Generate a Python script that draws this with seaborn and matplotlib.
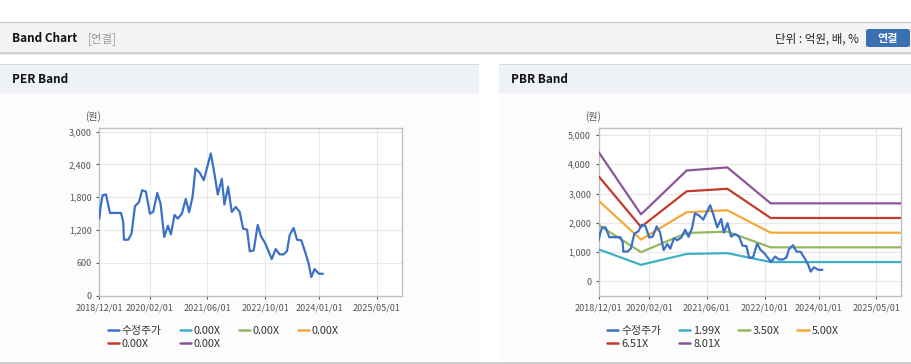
import matplotlib
matplotlib.use("Agg")
import matplotlib.dates as mdates
import matplotlib.pyplot as plt
import pandas as pd
import seaborn as sns
from matplotlib.lines import Line2D
from matplotlib.patches import FancyBboxPatch, Rectangle

# Data
PRICE_DATES = [
    "2018-12-01", "2018-12-12", "2018-12-29", "2019-01-26", "2019-02-06",
    "2019-03-01", "2019-06-02", "2019-06-21", "2019-06-27", "2019-08-02",
    "2019-08-30", "2019-09-28", "2019-10-31", "2019-11-28", "2019-12-29",
    "2020-02-01", "2020-02-29", "2020-04-03", "2020-05-01", "2020-06-01",
    "2020-07-02", "2020-07-27", "2020-08-27", "2020-09-24", "2020-10-28",
    "2020-11-30", "2020-12-28", "2021-01-26", "2021-02-20", "2021-03-28",
    "2021-05-01", "2021-06-29", "2021-07-27", "2021-08-27", "2021-09-30",
    "2021-10-22", "2021-11-22", "2021-12-23", "2022-01-26", "2022-02-28",
    "2022-03-29", "2022-05-01", "2022-05-24", "2022-06-26", "2022-07-30",
    "2022-08-27", "2022-09-30", "2022-11-25", "2022-12-29", "2023-01-31",
    "2023-03-06", "2023-04-03", "2023-04-26", "2023-05-29", "2023-06-27",
    "2023-08-02", "2023-09-08", "2023-10-03", "2023-10-25", "2023-11-22",
    "2023-12-29", "2024-02-01",
]
PRICE = [
    1408, 1622, 1837, 1850, 1745, 1512, 1512, 1347, 1022, 1022,
    1132, 1635, 1708, 1928, 1904, 1500, 1530, 1880, 1683, 1071,
    1279, 1120, 1475, 1408, 1500, 1769, 1524, 1806, 2326, 2247,
    2112, 2602, 2265, 1849, 2137, 1665, 1990, 1530, 1622, 1530,
    1224, 1206, 808, 826, 1292, 1084, 961, 667, 851, 753,
    753, 814, 1108, 1237, 1022, 1010, 765, 582, 337, 484,
    398, 398,
]

BAND_DATES = ["2018-12-01", "2019-11-23", "2020-12-13", "2021-05-25",
              "2021-11-21", "2022-11-21", "2025-12-31"]
BAND_199 = [1096, 569, 941, 953, 967, 663, 663]
BAND_350 = [1929, 1001, 1656, 1677, 1701, 1166, 1166]
BAND_500 = [2755, 1430, 2365, 2395, 2430, 1665, 1665]
BAND_651 = [3587, 1862, 3079, 3118, 3164, 2168, 2168]
BAND_801 = [4414, 2291, 3789, 3837, 3893, 2667, 2667]

PBR_LABELS = ["1.99X", "3.50X", "5.00X", "6.51X", "8.01X"]
PER_LABELS = ["0.00X", "0.00X", "0.00X", "0.00X", "0.00X"]
PRICE_LABEL = "수정주가"

X_TICKS = ["2018-12-01", "2020-02-01", "2021-06-01", "2022-10-01",
           "2024-01-01", "2025-05-01"]
X_LIM = ["2018-12-01", "2025-11-27"]
PER_YTICKS = [0, 600, 1200, 1800, 2400, 3000]
PBR_YTICKS = [0, 1000, 2000, 3000, 4000, 5000]

PRICE_COLOR = "#3d71c6"
BAND_COLORS = ["#3fb0c4", "#93b85e", "#f2a93b", "#c23b2c", "#8c559a"]

W, H = 912, 364

sns.set_theme(style="white")
plt.rcParams["font.family"] = ["Noto Sans CJK KR", "DejaVu Sans"]
plt.rcParams["axes.unicode_minus"] = False

fig = plt.figure(figsize=(W / 100, H / 100), dpi=100)


def fx(x):
  return x / W


def fy(y):
  return 1 - y / H


def rect(x0, y0, x1, y1, color):
  fig.patches.append(Rectangle((fx(x0), fy(y1)), fx(x1 - x0), (y1 - y0) / H,
                               transform=fig.transFigure, color=color,
                               zorder=-10, lw=0))


# Page chrome
rect(0, 22, W, 23, "#c4c4c4")
rect(0, 23, W, 52, "#f4f4f4")
rect(0, 52, W, 53.5, "#cfcfcf")
rect(0, 53.5, W, 55, "#ebebeb")
for x0, x1 in [(0, 479), (499, W)]:
  rect(x0, 63.5, x1, 65, "#d6d9de")
  rect(x0, 65, x1, 93, "#eef1f6")
  rect(x0, 93, x1, 362, "#fcfcfc")
rect(0, 362, W, 364, "#d0d0d0")

fig.text(fx(12), fy(39), "Band Chart", fontsize=8.5, fontweight="bold",
         color="#111111", va="center")
fig.text(fx(88), fy(39), "[연결]", fontsize=8.3, color="#999999", va="center")
fig.text(fx(859), fy(39), "단위 : 억원, 배, %", fontsize=8.3,
         color="#222222", va="center", ha="right")
fig.patches.append(FancyBboxPatch((fx(866), fy(47)), fx(44), 18 / H,
                                  boxstyle="round,pad=0,rounding_size=0.004",
                                  transform=fig.transFigure, color="#3b6fb3",
                                  lw=0, zorder=1))
fig.text(fx(888), fy(38.5), "연결", fontsize=8, fontweight="bold",
         color="white", va="center", ha="center", zorder=2)
fig.text(fx(12), fy(79.5), "PER Band", fontsize=8.5, fontweight="bold",
         color="#111111", va="center")
fig.text(fx(511), fy(79.5), "PBR Band", fontsize=8.5, fontweight="bold",
         color="#111111", va="center")

price_df = pd.DataFrame({"date": pd.to_datetime(PRICE_DATES),
                         "value": PRICE})
band_dates = pd.to_datetime(BAND_DATES)
bands = [BAND_199, BAND_350, BAND_500, BAND_651, BAND_801]


def style_axes(ax, yticks, ylim):
  ax.set_facecolor("white")
  ax.set_xlim(pd.to_datetime(X_LIM))
  ax.set_ylim(ylim)
  ax.set_xticks(pd.to_datetime(X_TICKS))
  ax.xaxis.set_major_formatter(mdates.DateFormatter("%Y/%m/%d"))
  ax.set_yticks(yticks)
  ax.set_yticklabels([f"{v:,}" for v in yticks])
  ax.grid(True, color="#e8e8e8", lw=0.8)
  ax.set_axisbelow(True)
  for s in ax.spines.values():
    s.set_color("#c0c0c0")
    s.set_linewidth(1)
  ax.tick_params(axis="both", labelsize=6.5, colors="#555555",
                 length=2.4, width=0.8, pad=3, direction="out")
  ax.tick_params(axis="x", bottom=True)
  ax.tick_params(axis="y", left=True)
  ax.set_xlabel("")
  ax.set_ylabel("")


def add_legend(handles, labels, x, y):
  order = [0, 4, 1, 5, 2, 3]
  fig.legend([handles[i] for i in order], [labels[i] for i in order],
             loc="upper left", bbox_to_anchor=(fx(x), fy(y)), ncol=4,
             frameon=False, fontsize=7.8, handlelength=1.05,
             handletextpad=0.25, columnspacing=1.65, labelspacing=0.24,
             borderpad=0, borderaxespad=0, labelcolor="#333333")


def add_panel(left, yticks, ylim, band_labels, draw_bands):
  ax = fig.add_axes([fx(left), fy(295.5), fx(302.5), 167.2 / H])
  handles = [Line2D([], [], color=PRICE_COLOR, lw=1.8)]
  sns.lineplot(data=price_df, x="date", y="value", ax=ax, color=PRICE_COLOR,
               lw=1.6, zorder=4)
  for vals, col in zip(bands, BAND_COLORS):
    if draw_bands:
      sns.lineplot(x=band_dates, y=vals, ax=ax, color=col, lw=1.6, zorder=3)
    handles.append(Line2D([], [], color=col, lw=1.8))
  style_axes(ax, yticks, ylim)
  fig.text(fx(left - 6), fy(117), "(원)", fontsize=7.2, color="#555555",
           ha="center", va="center")
  add_legend(handles, [PRICE_LABEL] + band_labels, left + 8.4, 326)
  return ax


add_panel(99.3, PER_YTICKS, (0, 3062), PER_LABELS, False)
add_panel(598.7, PBR_YTICKS, (-478, 5228), PBR_LABELS, True)

fig.savefig("out.png", dpi=100)
